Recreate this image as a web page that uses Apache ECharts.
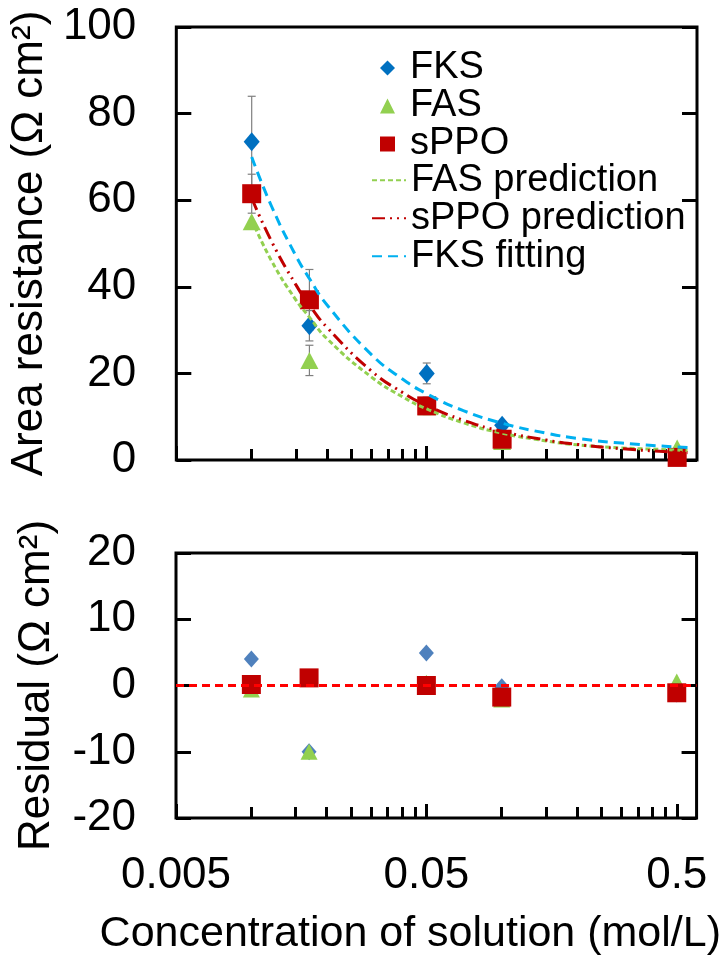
<!DOCTYPE html>
<html>
<head>
<meta charset="utf-8">
<script src="https://cdn.jsdelivr.net/npm/echarts@6.0.0/dist/echarts.min.js"></script>
<style>
  html, body { margin: 0; padding: 0; background: #ffffff; }
  #chart { width: 723px; height: 958px; }
</style>
</head>
<body>
<div id="chart"></div>
<script>
// Measured concentrations (mol/L) and area resistances (Ω cm²)
const conc = [0.01, 0.017, 0.05, 0.1, 0.5];
const fksR = [73.5, 31, 20, 8, 1.7];
const fasR = [55, 23, 12.3, 4.3, 2.8];
const sppoR = [61.5, 37, 12.5, 4.8, 0.6];

// Standard deviations (0 = no bar shown)
const fksErr = [10.5, 3.5, 2.4, 0, 0];
const fasErr = [0, 3.5, 0, 0, 0];
const sppoErr = [4.5, 7, 2, 0, 0];

// Model curves
const curveConc = [0.01, 0.012, 0.015, 0.017, 0.02, 0.03, 0.04, 0.05, 0.07, 0.1, 0.15, 0.2, 0.3, 0.5, 0.55];
const fasPred  = [55.5, 46, 37, 33, 28, 19.2, 14.6, 11.8, 8.6, 6.2, 4.4, 3.5, 2.8, 2.3, 2.2];
const sppoPred = [60.5, 50.5, 40.5, 35.8, 30.6, 20.6, 15.6, 12.6, 9.2, 6.6, 4.6, 3.6, 2.6, 1.8, 1.7];
const fksFit   = [70, 58.6, 47.2, 41.9, 35.8, 24.4, 18.7, 15.3, 11.4, 8.5, 6.2, 5.0, 3.9, 3.0, 2.9];

// Residuals (Ω cm²)
const fksResid = [4, -10, 4.9, -0.2, -1.3];
const fasResid = [-0.6, -10, 0.4, -2.1, 0.6];
const sppoResid = [0.15, 1.15, 0, -1.75, -1.1];

// Axis ticks
const xMajorTicks = [0.005, 0.05, 0.5];
const xMinorTicks = [0.01, 0.015, 0.02, 0.025, 0.03, 0.035, 0.04, 0.045,
                     0.1, 0.15, 0.2, 0.25, 0.3, 0.35, 0.4, 0.45];
const xRange = [0.005, 0.6];

const FONT = "'Liberation Sans', Arial, sans-serif";
const pairs = (xs, ys) => xs.map((x, i) => [x, ys[i]]);

const errData = [];
[[fksR, fksErr], [fasR, fasErr], [sppoR, sppoErr]].forEach(([vals, errs]) => {
  conc.forEach((c, i) => {
    if (errs[i] > 0) errData.push([c, vals[i] - errs[i], vals[i] + errs[i]]);
  });
});

function xAxisFor(gridIndex, ticks, len, withLabels) {
  return {
    type: 'log', logBase: 10, gridIndex: gridIndex,
    min: xRange[0], max: xRange[1], position: 'bottom',
    axisLine: { show: false, onZero: false },
    splitLine: { show: false },
    axisTick: { show: true, inside: true, length: len, customValues: ticks,
                lineStyle: { color: '#000', width: 3 } },
    axisLabel: withLabels ? {
      show: true, customValues: xMajorTicks, margin: 36,
      fontSize: 44, color: '#000', fontFamily: FONT,
      formatter: v => String(+(+v).toPrecision(3))
    } : { show: false }
  };
}

function yAxisFor(gridIndex, min, max, step, right, name) {
  const ax = {
    type: 'value', gridIndex: gridIndex, min: min, max: max, interval: step,
    position: right ? 'right' : 'left',
    axisLine: { show: false, onZero: false },
    splitLine: { show: false },
    axisTick: { show: true, inside: true, length: 15, lineStyle: { color: '#000', width: 3 } },
    axisLabel: right ? { show: false } : {
      show: true, margin: 40, fontSize: 44, color: '#000', fontFamily: FONT
    }
  };
  if (name) {
    ax.name = name;
    ax.nameLocation = 'middle';
    ax.nameGap = 117;
    ax.nameTextStyle = { fontSize: 44, color: '#000', fontFamily: FONT };
  }
  return ax;
}

const xBottom = xAxisFor(1, xMajorTicks, 14, true);
xBottom.name = 'Concentration of solution (mol/L)';
xBottom.nameLocation = 'middle';
xBottom.nameGap = 95;
xBottom.nameTextStyle = { fontSize: 43, color: '#000', fontFamily: FONT, padding: [0, 52, 0, 0] };

const hiddenMarker = { opacity: 0 };
const legendRow = 37.4;
const legendTop = 44;
const legendText = { fontSize: 38, lineHeight: legendRow, color: '#000', fontFamily: FONT };

const option = {
  animation: false,
  backgroundColor: '#ffffff',
  textStyle: { fontFamily: FONT },
  grid: [
    { left: 176, top: 27, width: 521, height: 433, show: true,
      borderColor: '#000', borderWidth: 3, backgroundColor: 'transparent' },
    { left: 176, top: 553, width: 521, height: 265, show: true,
      borderColor: '#000', borderWidth: 3, backgroundColor: 'transparent' }
  ],
  legend: [
    { // marker entries
      orient: 'vertical', left: 375, top: legendTop,
      itemWidth: 15, itemHeight: 15, itemGap: 0,
      textStyle: Object.assign({ padding: [0, 0, 0, 10] }, legendText),
      data: ['FKS', 'FAS', 'sPPO']
    },
    { // line entries
      orient: 'vertical', left: 366, top: legendTop + 3 * legendRow,
      itemWidth: 34, itemHeight: 15, itemGap: 0,
      textStyle: legendText,
      data: [
        { name: 'FAS prediction', itemStyle: hiddenMarker },
        { name: 'sPPO prediction', itemStyle: hiddenMarker },
        { name: 'FKS fitting', itemStyle: hiddenMarker }
      ]
    }
  ],
  xAxis: [
    xAxisFor(0, xMinorTicks, 11, false),
    xAxisFor(0, xMajorTicks, 14, false),
    xAxisFor(1, xMinorTicks, 11, false),
    xBottom
  ],
  yAxis: [
    yAxisFor(0, 0, 100, 20, false, 'Area resistance (Ω cm²)'),
    yAxisFor(0, 0, 100, 20, true),
    yAxisFor(1, -20, 20, 10, false, 'Residual (Ω cm²)'),
    yAxisFor(1, -20, 20, 10, true)
  ],
  series: [
    {
      name: 'error', type: 'custom', xAxisIndex: 0, yAxisIndex: 0, z: 1,
      renderItem: function (params, api) {
        const lo = api.coord([api.value(0), api.value(1)]);
        const hi = api.coord([api.value(0), api.value(2)]);
        const cap = 4;
        const st = { stroke: '#7f7f7f', lineWidth: 1.2 };
        return {
          type: 'group',
          children: [
            { type: 'line', shape: { x1: lo[0], y1: lo[1], x2: hi[0], y2: hi[1] }, style: st },
            { type: 'line', shape: { x1: lo[0] - cap, y1: lo[1], x2: lo[0] + cap, y2: lo[1] }, style: st },
            { type: 'line', shape: { x1: hi[0] - cap, y1: hi[1], x2: hi[0] + cap, y2: hi[1] }, style: st }
          ]
        };
      },
      data: errData
    },
    { name: 'FKS', type: 'scatter', xAxisIndex: 0, yAxisIndex: 0, z: 2,
      symbol: 'diamond', symbolSize: [16, 19], itemStyle: { color: '#0070C0', opacity: 1 },
      data: pairs(conc, fksR) },
    { name: 'FAS', type: 'scatter', xAxisIndex: 0, yAxisIndex: 0, z: 2,
      symbol: 'triangle', symbolSize: [18, 17], itemStyle: { color: '#92D050', opacity: 1 },
      data: pairs(conc, fasR) },
    { name: 'sPPO', type: 'scatter', xAxisIndex: 0, yAxisIndex: 0, z: 2,
      symbol: 'rect', symbolSize: [19, 19], itemStyle: { color: '#C00000', opacity: 1 },
      data: pairs(conc, sppoR) },
    { name: 'FAS prediction', type: 'line', xAxisIndex: 0, yAxisIndex: 0, z: 3,
      smooth: true, symbol: 'none', showSymbol: false,
      itemStyle: { color: '#92D050' },
      lineStyle: { color: '#92D050', width: 3, type: [5, 3] },
      data: pairs(curveConc, fasPred) },
    { name: 'sPPO prediction', type: 'line', xAxisIndex: 0, yAxisIndex: 0, z: 3,
      smooth: true, symbol: 'none', showSymbol: false,
      itemStyle: { color: '#C00000' },
      lineStyle: { color: '#C00000', width: 3, type: [13, 5, 2, 5, 2, 5] },
      data: pairs(curveConc, sppoPred) },
    { name: 'FKS fitting', type: 'line', xAxisIndex: 0, yAxisIndex: 0, z: 3,
      smooth: true, symbol: 'none', showSymbol: false,
      itemStyle: { color: '#00B0F0' },
      lineStyle: { color: '#00B0F0', width: 3, type: [10, 6] },
      data: pairs(curveConc, fksFit) },

    { name: 'FKS residual', type: 'scatter', xAxisIndex: 2, yAxisIndex: 2, z: 2,
      symbol: 'diamond', symbolSize: [15, 17], itemStyle: { color: '#4F81BD', opacity: 1 },
      data: pairs(conc, fksResid) },
    { name: 'FAS residual', type: 'scatter', xAxisIndex: 2, yAxisIndex: 2, z: 2,
      symbol: 'triangle', symbolSize: [17, 16], itemStyle: { color: '#92D050', opacity: 1 },
      data: pairs(conc, fasResid) },
    { name: 'sPPO residual', type: 'scatter', xAxisIndex: 2, yAxisIndex: 2, z: 2,
      symbol: 'rect', symbolSize: [19, 19], itemStyle: { color: '#C00000', opacity: 1 },
      data: pairs(conc, sppoResid) },
    { name: 'zero', type: 'line', xAxisIndex: 2, yAxisIndex: 2, z: 4,
      symbol: 'none', showSymbol: false,
      lineStyle: { color: '#FF0000', width: 3, type: [8, 5] },
      data: [[xRange[0], 0], [xRange[1], 0]] }
  ]
};

const chart = echarts.init(document.getElementById('chart'), null, { renderer: 'canvas' });
chart.setOption(option);
</script>
</body>
</html>
